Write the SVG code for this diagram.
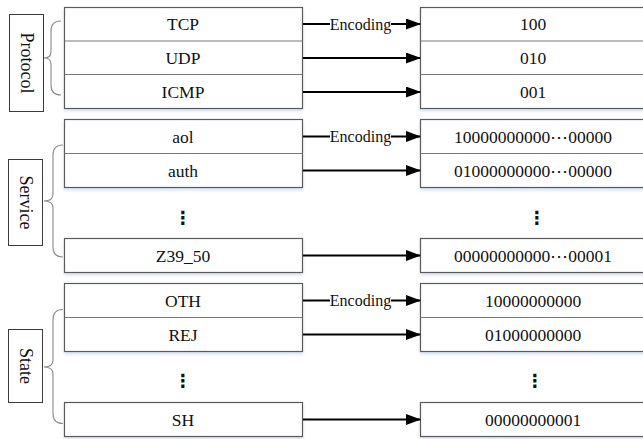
<svg xmlns="http://www.w3.org/2000/svg" width="643" height="439" viewBox="0 0 643 439">
  <defs>
    <filter id="soft" x="-5%" y="-10%" width="110%" height="130%">
      <feDropShadow dx="0" dy="2" stdDeviation="1.6" flood-color="#a9c3e3" flood-opacity="0.55"/>
    </filter>
    <marker id="head" markerWidth="15" markerHeight="11" refX="14" refY="5.5" orient="auto" markerUnits="userSpaceOnUse">
      <path d="M0,0 L15,5.5 L0,11 Z" fill="#000"/>
    </marker>
  </defs>
  <style>
    .box { fill: #fff; stroke: #5a5a5a; stroke-width: 1.2; filter: url(#soft); }
    .sep { stroke: #7a7a7a; stroke-width: 1.2; }
    .lbl { fill: #fff; stroke: #3c3c3c; stroke-width: 1; }
    .brace { fill: none; stroke: #8a8a8a; stroke-width: 1.1; }
    .t { font-family: "Liberation Serif", "Times New Roman", serif; font-size: 17.5px; fill: #111; text-anchor: middle; }
    .enc { font-family: "Liberation Serif", "Times New Roman", serif; font-size: 16px; fill: #111; text-anchor: middle; }
    .dots { font-family: "DejaVu Sans", sans-serif; font-size: 18px; font-weight: bold; fill: #111; text-anchor: middle; }
    .arrow { stroke: #000; stroke-width: 2; fill: none; marker-end: url(#head); }
  </style>

  <rect width="643" height="439" fill="#fff"/>

  <!-- group labels -->
  <g id="label-protocol">
    <rect class="lbl" x="9.5" y="14.5" width="34" height="97"/>
    <text class="t" transform="translate(26.5,63) rotate(90)" x="0" y="6" style="font-size:18px">Protocol</text>
  </g>
  <g id="label-service">
    <rect class="lbl" x="8.5" y="159.5" width="34" height="86"/>
    <text class="t" transform="translate(25.5,202.5) rotate(90)" x="0" y="6" style="font-size:18px">Service</text>
  </g>
  <g id="label-state">
    <rect class="lbl" x="8.5" y="329.5" width="34" height="73"/>
    <text class="t" transform="translate(25.5,366) rotate(90)" x="0" y="6" style="font-size:18px">State</text>
  </g>

  <!-- braces -->
  <g id="braces">
    <path class="brace" d="M61,21 Q51,21 51,31 L51,52 Q51,58 44,58 Q51,58 51,64 L51,85 Q51,95 61,95"/>
    <path class="brace" d="M63,145 Q53,145 53,155 L53,194 Q53,201 44,201 Q53,201 53,208 L53,247 Q53,257 63,257"/>
    <path class="brace" d="M63,309.5 Q53,309.5 53,319.5 L53,360 Q53,367 44,367 Q53,367 53,374 L53,413.5 Q53,423.5 63,423.5"/>
  </g>

  <!-- protocol values -->
  <g id="protocol-src">
    <rect class="box" x="64.5" y="7.5" width="238" height="101"/>
    <line class="sep" x1="64.5" y1="41" x2="302.5" y2="41"/>
    <line class="sep" x1="64.5" y1="74.5" x2="302.5" y2="74.5"/>
    <text class="t" x="183" y="30">TCP</text>
    <text class="t" x="183" y="64">UDP</text>
    <text class="t" x="183" y="98">ICMP</text>
  </g>
  <g id="protocol-code">
    <rect class="box" x="420.5" y="7.5" width="240" height="101"/>
    <line class="sep" x1="420.5" y1="41" x2="643" y2="41"/>
    <line class="sep" x1="420.5" y1="74.5" x2="643" y2="74.5"/>
    <text class="t" x="533" y="30">100</text>
    <text class="t" x="533" y="64">010</text>
    <text class="t" x="533" y="98">001</text>
  </g>

  <!-- service values -->
  <g id="service-src">
    <rect class="box" x="64.5" y="119.5" width="238" height="68"/>
    <line class="sep" x1="64.5" y1="153.5" x2="302.5" y2="153.5"/>
    <text class="t" x="183" y="142.5">aol</text>
    <text class="t" x="183" y="176.5">auth</text>
    <text class="dots" x="183" y="224">⋮</text>
    <rect class="box" x="64.5" y="238.5" width="238" height="34"/>
    <text class="t" x="183" y="261.5">Z39_50</text>
  </g>
  <g id="service-code">
    <rect class="box" x="420.5" y="119.5" width="240" height="68"/>
    <line class="sep" x1="420.5" y1="153.5" x2="643" y2="153.5"/>
    <text class="t" x="533" y="142.5">10000000000⋯00000</text>
    <text class="t" x="533" y="176.5">01000000000⋯00000</text>
    <text class="dots" x="537" y="224">⋮</text>
    <rect class="box" x="420.5" y="238.5" width="240" height="34"/>
    <text class="t" x="533" y="261.5">00000000000⋯00001</text>
  </g>

  <!-- state values -->
  <g id="state-src">
    <rect class="box" x="64.5" y="283.5" width="238" height="68"/>
    <line class="sep" x1="64.5" y1="317.5" x2="302.5" y2="317.5"/>
    <text class="t" x="183" y="306.5">OTH</text>
    <text class="t" x="183" y="340.5">REJ</text>
    <text class="dots" x="183" y="387">⋮</text>
    <rect class="box" x="64.5" y="402.5" width="238" height="34"/>
    <text class="t" x="183" y="425.5">SH</text>
  </g>
  <g id="state-code">
    <rect class="box" x="420.5" y="283.5" width="240" height="68"/>
    <line class="sep" x1="420.5" y1="317.5" x2="643" y2="317.5"/>
    <text class="t" x="533" y="306.5">10000000000</text>
    <text class="t" x="533" y="340.5">01000000000</text>
    <text class="dots" x="535" y="387">⋮</text>
    <rect class="box" x="420.5" y="402.5" width="240" height="34"/>
    <text class="t" x="533" y="425.5">00000000001</text>
  </g>

  <!-- connectors -->
  <g id="connectors">
    <line class="arrow" x1="303" y1="24" x2="420" y2="24"/>
    <line class="arrow" x1="303" y1="58" x2="420" y2="58"/>
    <line class="arrow" x1="303" y1="92" x2="420" y2="92"/>
    <line class="arrow" x1="303" y1="136.5" x2="420" y2="136.5"/>
    <line class="arrow" x1="303" y1="170.5" x2="420" y2="170.5"/>
    <line class="arrow" x1="303" y1="255.5" x2="420" y2="255.5"/>
    <line class="arrow" x1="303" y1="300.5" x2="420" y2="300.5"/>
    <line class="arrow" x1="303" y1="334.5" x2="420" y2="334.5"/>
    <line class="arrow" x1="303" y1="419.5" x2="420" y2="419.5"/>

    <rect x="330" y="15" width="61" height="18" fill="#fff"/>
    <text class="enc" x="360.5" y="29.5">Encoding</text>
    <rect x="330" y="127.5" width="61" height="18" fill="#fff"/>
    <text class="enc" x="360.5" y="142">Encoding</text>
    <rect x="330" y="291.5" width="61" height="18" fill="#fff"/>
    <text class="enc" x="360.5" y="306">Encoding</text>
  </g>
</svg>
